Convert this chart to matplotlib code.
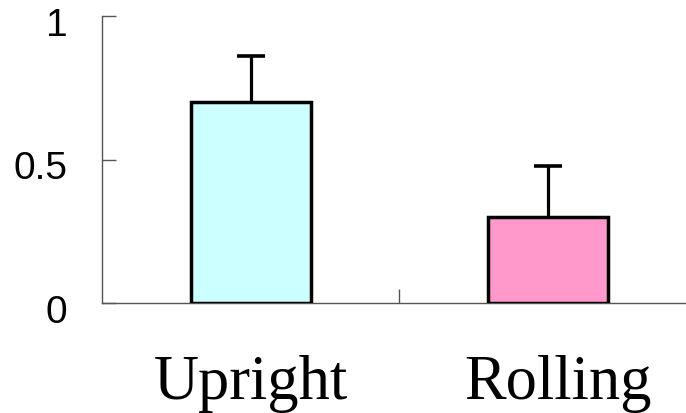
import numpy as np
import matplotlib
matplotlib.use('Agg')
import matplotlib.pyplot as plt
from matplotlib.transforms import ScaledTranslation

# data
categories = ['Upright', 'Rolling']
means = [0.70, 0.30]
errors = [0.162, 0.176]
bar_colors = ['#CCFFFF', '#FF99CC']
y_ticks = [0, 0.5, 1]
y_tick_labels = ['0', '0.5', '1']

# label nudges (points) to sit like the original
label_dx = [0, 7]

fig = plt.figure(figsize=(6.86, 4.14), dpi=100)
# axes runs a bit past the right edge of the figure, like the original crop
ax = fig.add_axes([102/686, 1 - 304/414, 595/686, 287/414])

x = np.arange(len(categories))
ax.bar(x, means, width=0.405, color=bar_colors, edgecolor='black',
       linewidth=2.5, zorder=3)
eb = ax.errorbar(x, means, yerr=[np.zeros(len(errors)), errors], fmt='none',
                 ecolor='black', elinewidth=2.3, capsize=10, capthick=2.6, zorder=2)
# only the upper cap is drawn in the original
eb[1][0].set_visible(False)

ax.set_xlim(-0.5, 1.5)
ax.set_ylim(0, 1)

for s in ['top', 'right']:
    ax.spines[s].set_visible(False)
for s in ['left', 'bottom']:
    ax.spines[s].set_color('#555555')
    ax.spines[s].set_linewidth(1)

ax.set_yticks(y_ticks)
ax.set_yticklabels(y_tick_labels, fontsize=28, family='Liberation Sans')
ax.tick_params(axis='y', direction='in', length=10, width=1, color='#555555', pad=25)
shift = ScaledTranslation(0, -5/100, fig.dpi_scale_trans)
for lbl in ax.get_yticklabels():
    lbl.set_transform(lbl.get_transform() + shift)

ax.set_xticks([0.5])
ax.set_xticklabels([''])
ax.tick_params(axis='x', direction='in', length=10, width=1, color='#555555')

for xi, name, dx in zip(x, categories, label_dx):
    ax.annotate(name, xy=(xi, 0), xycoords=('data', 'axes fraction'),
                xytext=(dx, -36.5), textcoords='offset points',
                ha='center', va='top', fontsize=45, family='Liberation Serif')

fig.savefig('out.png', dpi=100)
